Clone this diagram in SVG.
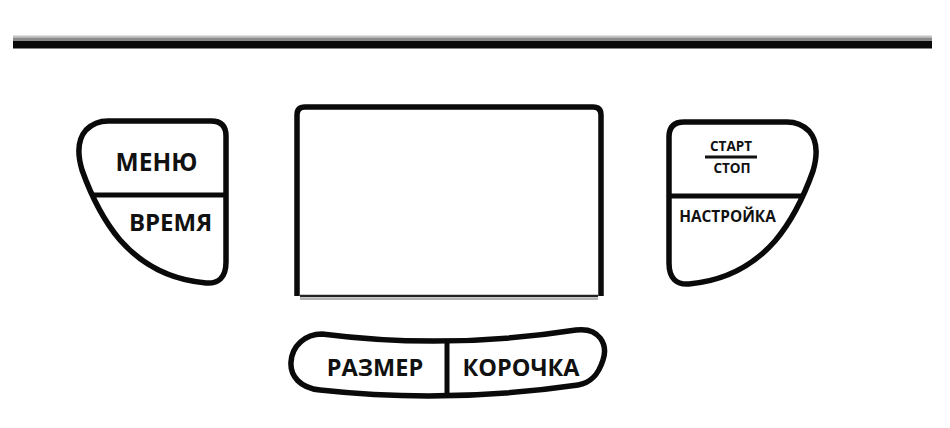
<svg xmlns="http://www.w3.org/2000/svg" width="950" height="428" viewBox="0 0 950 428">
<style>
.btn{fill:#fff;stroke:#0a0a0a;stroke-width:5.5;stroke-linejoin:round}
.div{stroke:#0a0a0a;stroke-width:5}
.t{font-family:"Open Sans","DejaVu Sans",sans-serif;font-weight:bold;fill:#111;text-anchor:middle}
</style>
<defs>
<path id="sidebtn" d="M108,121 L211,121 Q226,121 226,136 L226,262 C226,278 218,284 206,283 C172,280 142,265 120,240 C104,221 92,198 82,170 C77,153 78,139 86,130 C92,124 98,121 108,121 Z"/>
</defs>
<rect width="950" height="428" fill="#fff"/>
<g id="topbar">
<rect x="13" y="35.5" width="919" height="2" fill="#c4c4c4"/>
<rect x="13" y="37.5" width="919" height="3.5" fill="#8a8a8a"/>
<rect x="13" y="41" width="919" height="7.5" fill="#0a0a0a"/>
</g>
<g id="display">
<path d="M297,296 L297,115 Q297,107 305,107 L593,107 Q601,107 601,115 L601,296" fill="#fff" stroke="#0a0a0a" stroke-width="5.5" stroke-linejoin="round"/>
<line x1="300" y1="296" x2="598" y2="296" stroke="#222" stroke-width="2.5"/>
<line x1="300" y1="299" x2="598" y2="299" stroke="#999" stroke-width="1.5"/>
</g>
<g id="btn-menu-time">
<use href="#sidebtn" class="btn"/>
<line class="div" x1="94" y1="195" x2="226" y2="195"/>
<text class="t" x="156.5" y="170.5" font-size="24.5">МЕНЮ</text>
<text class="t" x="170.5" y="230.5" font-size="24">ВРЕМЯ</text>
</g>
<g id="btn-start-setup">
<use href="#sidebtn" class="btn" transform="matrix(-1 0 0 1 895 1)"/>
<line class="div" x1="669" y1="196" x2="801" y2="196"/>
<text class="t" x="731" y="151" font-size="13.5">СТАРТ</text>
<line x1="705" y1="157" x2="757" y2="157" stroke="#111" stroke-width="3"/>
<text class="t" x="732" y="173" font-size="13.5">СТОП</text>
<text class="t" x="727.5" y="222" font-size="15.4">НАСТРОЙКА</text>
</g>
<g id="btn-size-crust">
<path class="btn" d="M322,334 Q447,350 576,330 C600,327 608,345 603,360 C598,376 590,383 578,385 Q447,404 320,390 C300,388 290,376 291,362 C292,346 305,334 322,334 Z"/>
<line class="div" x1="447" y1="340" x2="447" y2="395"/>
<text class="t" x="375" y="376" font-size="23.5">РАЗМЕР</text>
<text class="t" x="521" y="376" font-size="23.5">КОРОЧКА</text>
</g>
<g id="connectors"/>
</svg>
